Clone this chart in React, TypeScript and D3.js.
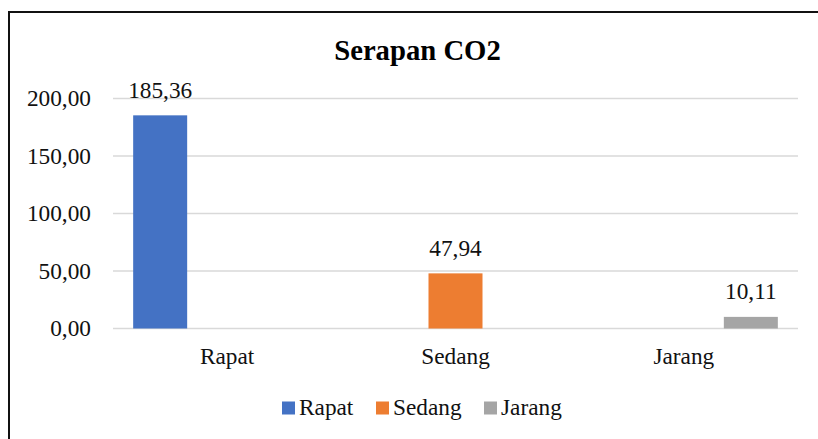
import React, { useRef, useEffect } from 'react';
import { select, scaleBand, scaleLinear } from 'd3';

const categories = ['Rapat', 'Sedang', 'Jarang'];
const seriesNames = ['Rapat', 'Sedang', 'Jarang'];
// one value per series, each series only filled in its own category
const rapatValues = [185.36, null, null];
const sedangValues = [null, 47.94, null];
const jarangValues = [null, null, 10.11];
const yTicks = [0, 50, 100, 150, 200];
const colors = ['#4472C4', '#ED7D31', '#A5A5A5'];

const fmt = (v: number) => v.toFixed(2).replace('.', ',');

function App() {
    const svgRef = useRef<SVGSVGElement>(null);

    useEffect(() => {
        const svg = select(svgRef.current);
        svg.selectAll('*').remove();

        const seriesValues = [rapatValues, sedangValues, jarangValues];

        const x0 = scaleBand().domain(categories).range([113, 798]).padding(0);
        const x1 = scaleBand()
            .domain(seriesNames)
            .range([0, x0.bandwidth()])
            .paddingInner(0.194)
            .paddingOuter(0.301);
        const y = scaleLinear().domain([0, 200]).range([328.5, 98.5]);

        // frame
        svg.append('rect')
            .attr('x', 9).attr('y', 12)
            .attr('width', 830).attr('height', 450)
            .attr('fill', 'none')
            .attr('stroke', '#111')
            .attr('stroke-width', 2);

        svg.append('text')
            .attr('x', 417.5).attr('y', 60)
            .attr('text-anchor', 'middle')
            .attr('font-weight', 'bold')
            .attr('font-size', 28.7)
            .attr('fill', '#000')
            .text('Serapan CO2');

        // gridlines + y labels
        const yg = svg.append('g');
        yg.selectAll('line')
            .data(yTicks)
            .join('line')
            .attr('x1', 113).attr('x2', 798)
            .attr('y1', d => y(d)).attr('y2', d => y(d))
            .attr('stroke', '#D9D9D9')
            .attr('stroke-width', 1.5);
        yg.selectAll('text')
            .data(yTicks)
            .join('text')
            .attr('x', 91)
            .attr('y', d => y(d))
            .attr('dy', '0.33em')
            .attr('text-anchor', 'end')
            .text(d => fmt(d));

        // bars
        seriesNames.forEach((s, si) => {
            const vals = seriesValues[si];
            const g = svg.append('g');
            const items = categories
                .map((c, ci) => ({ c, v: vals[ci] }))
                .filter(d => d.v != null) as { c: string; v: number }[];
            g.selectAll('rect')
                .data(items)
                .join('rect')
                .attr('x', d => (x0(d.c) as number) + (x1(s) as number))
                .attr('y', d => y(d.v))
                .attr('width', x1.bandwidth())
                .attr('height', d => y(0) - y(d.v))
                .attr('fill', colors[si]);
            g.selectAll('text')
                .data(items)
                .join('text')
                .attr('x', d => (x0(d.c) as number) + (x1(s) as number) + x1.bandwidth() / 2)
                .attr('y', d => y(d.v) - 17.5)
                .attr('text-anchor', 'middle')
                .text(d => fmt(d.v));
        });

        // category labels
        svg.append('g')
            .selectAll('text')
            .data(categories)
            .join('text')
            .attr('x', d => (x0(d) as number) + x0.bandwidth() / 2)
            .attr('y', 363.5)
            .attr('text-anchor', 'middle')
            .text(d => d);

        // legend
        const legendX = [282, 376, 484];
        const lg = svg.append('g');
        seriesNames.forEach((s, i) => {
            lg.append('rect')
                .attr('x', legendX[i]).attr('y', 401.5)
                .attr('width', 13).attr('height', 13)
                .attr('fill', colors[i]);
            lg.append('text')
                .attr('x', legendX[i] + 17).attr('y', 415)
                .text(s);
        });
    }, []);

    return (
        <svg
            ref={svgRef}
            width={818}
            height={439}
            fontFamily="Liberation Serif, serif"
            fontSize={23.3}
            fill="#111"
            style={{ position: 'absolute', left: 0, top: 0, background: '#fff' }}
        />
    );
}

export default App;
